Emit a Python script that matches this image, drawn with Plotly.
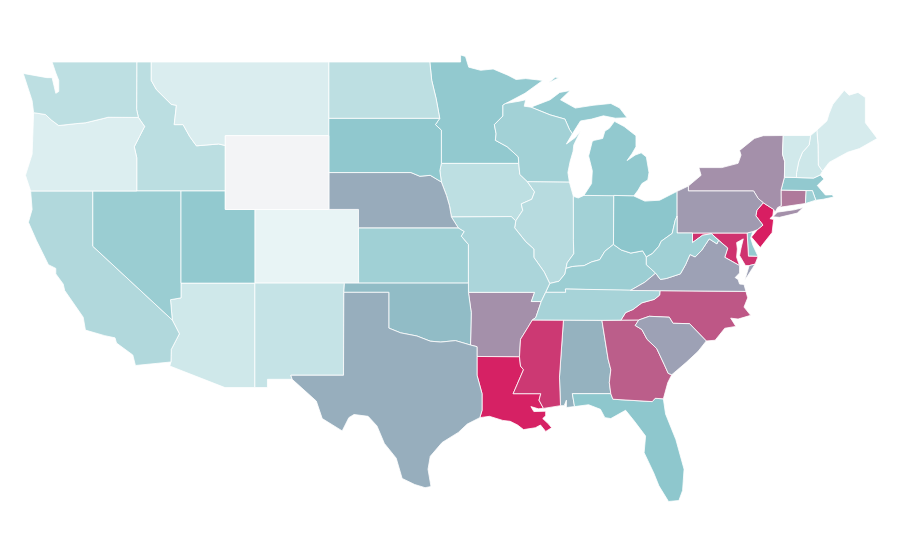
import plotly.graph_objects as go
from plotly.colors import sample_colorscale

states = ['AL','AR','AZ','CA','CO','CT','DE','FL','GA','IA','ID','IL','IN','KS','KY','LA','MA','MD','ME',
          'MI','MN','MO','MS','MT','NC','ND','NE','NH','NJ','NM','NV','NY','OH','OK','OR','PA','RI','SC','SD',
          'TN','TX','UT','VA','VT','WA','WI','WV','WY']
values = [56,66,17,32,5,73,46,49,81,26,27,29,39,40,42,99,47,94,14,
          47,47,35,92,12,83,26,58,18,100,22,43,66,50,53,11,63,40,61,48,
          37,57,47,61,16,26,39,40,0]

colorscale = [[0, '#f3f4f6'], [0.04, '#eaf5f6'], [0.5, '#8cc6cc'], [1, '#d81e62']]

# the plotly topojson needs the cdn, so the borders are kept here as lon/lat
mn_wi = [(-92.1,46.75),(-92.29,46.66),(-92.29,46.07),(-92.87,45.6),(-92.75,45.1),(-92.8,44.75),(-92.0,44.4),(-91.25,43.85),(-91.22,43.5)]
ia_wi = [(-91.22,43.5),(-91.15,42.9),(-90.64,42.51)]
ia_il = [(-90.64,42.51),(-90.15,41.95),(-90.34,41.55),(-91.05,41.3),(-90.95,40.95),(-91.42,40.38)]
mo_il = [(-91.42,40.38),(-91.5,40.0),(-90.75,39.25),(-90.2,38.85),(-90.2,38.4),(-89.5,37.6),(-89.13,36.98)]
ar_ms = [(-89.7,36.0),(-90.07,35.13),(-90.3,35.0),(-90.6,34.6),(-91.1,33.95),(-91.17,33.0)]
la_ms = [(-91.17,33.0),(-91.1,32.5),(-90.9,32.3),(-91.6,31.0),(-89.73,31.0),(-89.85,30.65),(-89.55,30.2)]
il_ky = [(-89.13,36.98),(-88.5,37.1),(-88.1,37.5),(-88.03,37.8)]
il_in = [(-88.03,37.8),(-87.95,38.1),(-87.5,38.6),(-87.53,39.35),(-87.53,41.71)]
in_ky = [(-88.03,37.8),(-87.6,37.9),(-86.8,37.95),(-86.3,38.15),(-85.75,38.27),(-85.4,38.73),(-84.82,39.1)]
oh_ky = [(-84.82,39.1),(-84.3,38.8),(-83.65,38.63),(-82.85,38.75),(-82.6,38.42)]
oh_wv = [(-82.6,38.42),(-82.2,38.6),(-81.75,39.0),(-81.6,39.27),(-80.85,39.7),(-80.65,40.4),(-80.52,40.64)]
ky_wv = [(-82.6,38.42),(-82.6,38.0),(-81.97,37.54)]
ky_va = [(-81.97,37.54),(-82.7,37.05),(-83.68,36.6)]
va_wv = [(-81.97,37.54),(-81.65,37.2),(-81.25,37.25),(-80.3,37.5),(-79.95,38.0),(-79.65,38.55),(-79.3,38.42),(-78.87,38.77),(-78.35,39.4),(-77.83,39.13),(-77.72,39.32)]
md_wv = [(-77.72,39.32),(-78.2,39.68),(-78.8,39.6),(-79.48,39.2),(-79.48,39.72)]
va_md = [(-77.72,39.32),(-77.1,38.9),(-77.3,38.4),(-76.95,38.25),(-76.3,37.95)]
va_nc = [(-75.87,36.55),(-81.68,36.59)]
tn_nc = [(-81.68,36.59),(-81.7,36.35),(-82.05,36.12),(-82.9,35.93),(-83.5,35.57),(-84.0,35.4),(-84.32,34.99)]
tn_north = [(-89.4,36.5),(-88.05,36.5),(-88.07,36.68),(-86.5,36.65),(-83.68,36.6)]
ga_sc = [(-83.11,35.0),(-83.35,34.7),(-82.9,34.48),(-82.55,33.95),(-81.9,33.45),(-81.4,32.6),(-81.12,32.1),(-80.88,32.03)]
nc_sc = [(-83.11,35.0),(-82.4,35.2),(-81.05,35.15),(-80.8,34.82),(-79.68,34.8),(-78.55,33.86)]
al_ga = [(-85.6,34.98),(-85.18,32.87),(-85.0,32.3),(-85.1,31.6),(-85.0,31.0)]
fl_ga = [(-85.0,31.0),(-84.86,30.7),(-82.2,30.57),(-82.0,30.75),(-81.45,30.72)]
tx_red = [(-100.0,34.56),(-99.2,34.3),(-98.1,34.13),(-97.2,33.85),(-96.5,33.8),(-95.5,33.88),(-94.48,33.64)]
la_tx = [(-94.04,33.02),(-94.04,32.0),(-93.7,31.0),(-93.7,30.1),(-93.85,29.7)]
ks_mo = [(-95.31,40.0),(-94.9,39.8),(-95.1,39.55),(-94.62,39.1),(-94.62,37.0)]
ne_ia = [(-96.45,42.49),(-96.1,41.75),(-95.9,41.2),(-95.77,40.59)]
ne_sd = [(-104.05,43.0),(-98.5,43.0),(-97.9,42.8),(-97.2,42.85),(-96.45,42.49)]
mn_sd = [(-96.56,45.94),(-96.85,45.6),(-96.45,45.3),(-96.45,43.5)]
mn_nd = [(-97.23,49.0),(-97.1,48.0),(-96.8,47.0),(-96.56,45.94)]
wi_up = [(-90.4,46.55),(-89.1,46.13),(-88.1,45.9),(-87.8,45.35),(-87.6,45.1)]
ny_pa = [(-75.35,42.0),(-75.05,41.6),(-74.7,41.36)]
nj_pa = [(-74.7,41.36),(-75.13,40.95),(-75.2,40.65),(-74.72,40.15),(-75.1,39.9)]
vt_nh = [(-71.5,45.01),(-71.6,44.5),(-72.05,44.1),(-72.3,43.6),(-72.45,43.0),(-72.46,42.73)]
ny_vt = [(-73.35,45.01),(-73.4,44.0),(-73.25,43.6),(-73.27,42.75)]
nh_me = [(-71.08,45.3),(-71.0,44.5),(-70.98,43.4),(-70.7,43.07)]
wa_or = [(-116.92,45.99),(-118.98,46.0),(-119.3,45.93),(-120.5,45.7),(-121.2,45.65),(-122.3,45.55),(-122.8,45.85),(-123.2,46.15),(-124.0,46.25)]
id_or = [(-116.92,45.99),(-116.5,45.5),(-116.85,44.95),(-117.2,44.4),(-117.03,43.8),(-117.03,42.0)]
id_mt = [(-116.05,49.0),(-116.05,48.0),(-115.7,47.5),(-114.7,46.7),(-114.35,46.65),(-114.5,45.6),(-113.9,45.6),(-113.45,44.95),(-113.0,44.45),(-111.5,44.55),(-111.05,44.47)]
az_ca = [(-114.63,35.0),(-114.15,34.25),(-114.7,33.4),(-114.72,32.72)]


def rev(line):
    return line[::-1]


outlines = {
    'WA': [[(-124.7,48.38),(-123.1,48.15),(-122.75,48.15),(-122.5,47.3),(-122.3,47.4),(-122.3,48.0),(-122.5,48.4),(-122.75,49.0),(-117.03,49.0),(-117.04,46.42)]
           + wa_or + [(-124.1,46.9)]],
    'OR': [rev(wa_or) + id_or + [(-124.2,42.0),(-124.55,42.85),(-124.1,44.0)]],
    'CA': [[(-124.2,42.0),(-120.0,42.0),(-120.0,39.0)] + az_ca
           + [(-117.12,32.53),(-117.3,33.1),(-118.4,33.75),(-118.5,34.03),(-119.2,34.15),(-120.5,34.45),(-120.65,35.15),(-121.9,36.6),(-122.0,36.95),(-122.5,37.5),(-122.5,37.8),(-123.0,38.0),(-123.8,39.3),(-124.35,40.3),(-124.1,41.0)]],
    'NV': [[(-120.0,42.0),(-114.04,42.0),(-114.04,36.2),(-114.75,36.1),(-114.63,35.0),(-120.0,39.0)]],
    'ID': [[(-117.03,49.0)] + id_mt + [(-111.05,42.0),(-114.04,42.0)] + rev(id_or) + [(-117.04,46.42)]],
    'MT': [[(-104.05,49.0),(-104.05,45.0),(-111.05,45.0)] + rev(id_mt)],
    'WY': [[(-111.05,45.0),(-104.05,45.0),(-104.05,41.0),(-111.05,41.0)]],
    'UT': [[(-114.04,42.0),(-111.05,42.0),(-111.05,41.0),(-109.05,41.0),(-109.05,37.0),(-114.04,37.0)]],
    'CO': [[(-109.05,41.0),(-102.05,41.0),(-102.05,37.0),(-109.05,37.0)]],
    'AZ': [[(-114.04,37.0),(-109.05,37.0),(-109.05,31.33),(-111.07,31.33),(-114.8,32.5)] + rev(az_ca) + [(-114.75,36.1),(-114.04,36.2)]],
    'NM': [[(-109.05,37.0),(-103.0,37.0),(-103.04,36.5),(-103.06,32.0),(-106.62,32.0),(-106.53,31.78),(-108.2,31.78),(-108.2,31.33),(-109.05,31.33)]],
    'ND': [[(-104.05,49.0)] + mn_nd + [(-104.05,45.94)]],
    'SD': [[(-104.05,45.94)] + mn_sd + [(-96.55,43.1)] + rev(ne_sd)],
    'NE': [ne_sd + ne_ia + [(-95.31,40.0),(-102.05,40.0),(-102.05,41.0),(-104.05,41.0)]],
    'KS': [[(-102.05,40.0)] + ks_mo + [(-102.04,37.0)]],
    'OK': [[(-103.0,37.0),(-94.62,37.0),(-94.62,36.5),(-94.43,35.4)] + rev(tx_red) + [(-100.0,36.5),(-103.04,36.5)]],
    'TX': [tx_red + [(-94.04,33.55)] + la_tx
           + [(-94.7,29.35),(-95.3,28.9),(-96.4,28.35),(-97.2,27.6),(-97.35,26.9),(-97.15,25.96),(-97.55,25.9),(-98.25,26.07),(-99.1,26.4),(-99.5,27.5),(-100.3,28.3),(-100.8,29.25),(-101.4,29.77),(-102.35,29.87),(-102.7,29.7),(-103.15,28.98),(-104.5,29.65),(-104.9,30.6),(-106.53,31.78),(-106.62,32.0),(-103.06,32.0),(-103.04,36.5),(-100.0,36.5)]],
    'MN': [[(-97.23,49.0),(-95.15,49.0),(-95.15,49.38),(-94.82,49.3),(-94.6,48.72),(-93.8,48.55),(-92.95,48.62),(-92.0,48.3),(-91.4,48.05),(-90.75,48.1),(-89.6,48.0),(-90.8,47.3)]
           + mn_wi + rev(mn_sd) + rev(mn_nd)],
    'IA': [[(-96.45,43.5)] + ia_wi + ia_il + [(-91.73,40.61)] + rev(ne_ia) + [(-96.55,43.1)]],
    'MO': [[(-95.77,40.59),(-91.73,40.61)] + mo_il + [(-89.4,36.5),(-89.7,36.0),(-90.37,36.0),(-90.15,36.5),(-94.62,36.5)] + rev(ks_mo)],
    'AR': [[(-94.62,36.5),(-90.15,36.5),(-90.37,36.0)] + ar_ms + [(-94.04,33.02),(-94.04,33.55),(-94.48,33.64),(-94.43,35.4)]],
    'LA': [[(-94.04,33.02)] + la_ms
           + [(-89.9,30.18),(-90.4,30.3),(-90.2,30.03),(-89.8,30.05),(-89.4,30.05),(-89.4,29.8),(-89.6,29.65),(-89.2,29.35),(-89.0,29.15),(-89.4,28.95),(-89.75,29.3),(-90.1,29.15),(-90.9,29.05),(-91.3,29.3),(-91.8,29.5),(-92.3,29.55),(-93.2,29.77)]
           + rev(la_tx)],
    'WI': [mn_wi + ia_wi[1:] + [(-87.8,42.49),(-87.9,43.0),(-87.75,43.6),(-87.55,44.15),(-87.5,44.5),(-87.05,45.25),(-87.4,44.9),(-88.0,44.55)]
           + rev(wi_up) + [(-90.85,46.6),(-90.75,46.95),(-91.2,46.87)]],
    'IL': [[(-90.64,42.51),(-87.8,42.49)] + rev(il_in) + rev(il_ky) + rev(mo_il) + rev(ia_il)],
    'IN': [[(-87.53,41.71),(-87.2,41.62),(-86.82,41.76),(-84.8,41.76)] + rev(in_ky) + il_in[1:]],
    'OH': [[(-84.8,41.76),(-83.45,41.73),(-82.7,41.45),(-81.7,41.5),(-80.52,41.98)] + rev(oh_wv) + rev(oh_ky)],
    'MI': [[(-86.82,41.76),(-84.8,41.76),(-83.45,41.73),(-83.15,42.05),(-82.9,42.4),(-82.5,42.6),(-82.42,43.0),(-82.6,43.85),(-82.95,44.07),(-83.35,43.95),(-83.9,43.65),(-83.55,44.05),(-83.3,44.4),(-83.3,45.0),(-84.1,45.5),(-84.75,45.78),(-85.1,45.4),(-85.4,45.25),(-85.55,44.85),(-86.1,44.75),(-86.25,44.7),(-86.5,43.9),(-86.25,43.1),(-86.3,42.4)],
           wi_up[:1] + [(-89.1,46.95),(-88.45,47.35),(-87.75,47.45),(-88.4,46.95),(-87.4,46.5),(-86.2,46.65),(-85.0,46.75),(-84.4,46.5),(-84.1,46.2),(-83.9,45.97),(-84.7,45.95),(-85.5,46.08),(-86.3,45.9),(-87.05,45.8)] + rev(wi_up)[:-1],
           [(-89.2,47.87),(-88.5,48.15),(-88.75,48.17)]],
    'KY': [il_ky + in_ky[1:] + oh_ky[1:] + ky_wv[1:] + ky_va[1:] + rev(tn_north) + [(-89.13,36.98)]],
    'TN': [tn_north + [va_nc[1]] + tn_nc + [(-85.6,34.98),(-88.2,34.995),(-90.3,35.0),(-90.07,35.13),(-89.7,36.0)]],
    'WV': [oh_wv + [(-80.52,39.72),(-79.48,39.72)] + rev(md_wv) + rev(va_wv) + rev(ky_wv)[1:]],
    'VA': [[(-83.68,36.6)] + rev(ky_va) + va_wv + va_md + [(-76.3,37.55),(-76.6,37.3),(-76.4,37.2),(-76.3,36.95),(-76.0,36.93)] + va_nc,
           [(-75.95,37.15),(-75.65,37.95),(-75.25,38.03),(-75.6,37.55)]],
    'NC': [va_nc + tn_nc + [(-83.11,35.0)] + nc_sc[1:] + [(-77.95,33.9),(-77.3,34.55),(-76.55,34.65),(-76.9,35.1),(-76.4,35.05),(-75.55,35.25),(-76.0,35.7),(-75.75,36.2)]],
    'SC': [nc_sc + [(-79.1,33.3),(-79.9,32.7)] + rev(ga_sc)],
    'GA': [[(-85.6,34.98),(-84.32,34.99)] + ga_sc + [(-81.15,31.6),(-81.45,30.72)] + rev(fl_ga) + rev(al_ga)],
    'AL': [[(-88.2,34.995)] + al_ga + [(-87.6,31.0),(-87.45,30.3),(-88.0,30.25),(-88.0,30.65),(-88.15,30.35),(-88.4,30.35),(-88.47,31.9)]],
    'MS': [[(-90.3,35.0),(-88.2,34.995),(-88.47,31.9),(-88.4,30.35)] + rev(la_ms) + rev(ar_ms)[:-2]],
    'FL': [[(-87.6,31.0)] + fl_ga + [(-81.3,29.9),(-80.6,28.5),(-80.05,26.9),(-80.15,25.75),(-80.4,25.2),(-81.1,25.15),(-81.75,26.0),(-82.1,26.7),(-82.75,27.8),(-82.65,28.7),(-83.4,29.5),(-84.0,30.1),(-85.0,29.65),(-85.4,29.7),(-85.7,30.15),(-86.5,30.4),(-87.45,30.3)]],
    'PA': [[(-80.52,41.98),(-79.76,42.27),(-79.76,42.0)] + ny_pa + nj_pa + [(-75.4,39.8),(-75.79,39.72),(-80.52,39.72),(-80.52,40.64)]],
    'NY': [[(-79.76,42.27),(-78.9,42.85),(-79.05,43.27),(-77.5,43.27),(-76.4,43.5),(-76.2,43.95),(-76.3,44.2),(-75.3,44.85),(-74.7,45.0)] + ny_vt + [(-73.5,42.05),(-73.49,41.2),(-73.73,41.1),(-73.9,40.85),(-74.0,41.0)] + rev(ny_pa) + [(-79.76,42.0)],
           [(-74.05,40.6),(-73.75,40.85),(-72.6,40.98),(-72.0,41.1),(-72.4,40.8),(-73.6,40.57)]],
    'NJ': [[(-74.7,41.36),(-74.0,41.0),(-74.05,40.65),(-74.25,40.5),(-74.0,40.45),(-74.1,39.75),(-74.9,38.93),(-75.5,39.5)] + rev(nj_pa)[:-1]],
    'DE': [[(-75.79,39.72),(-75.4,39.8),(-75.55,39.45),(-75.4,39.05),(-75.05,38.45),(-75.7,38.46)]],
    'MD': [[(-79.48,39.72),(-75.79,39.72),(-75.7,38.46),(-75.05,38.45),(-75.25,38.03),(-75.65,37.95),(-75.9,37.95),(-76.3,38.5),(-76.2,38.9),(-76.05,39.4),(-76.5,39.2),(-76.45,38.85),(-76.5,38.4)] + rev(va_md) + md_wv[1:]],
    'CT': [[(-73.5,42.05),(-71.8,42.02),(-71.85,41.32),(-73.0,41.2),(-73.73,41.1),(-73.49,41.2)]],
    'RI': [[(-71.8,42.02),(-71.38,42.02),(-71.15,41.5),(-71.85,41.32)]],
    'MA': [[(-73.27,42.75),(-72.46,42.73),(-71.3,42.7),(-70.85,42.87),(-70.6,42.65),(-71.05,42.3),(-70.65,41.95),(-70.5,41.78),(-70.0,41.8),(-70.2,42.07),(-69.95,41.67),(-70.65,41.55),(-71.15,41.5),(-71.38,42.02),(-71.8,42.02),(-73.5,42.05)]],
    'VT': [ny_vt[:1] + vt_nh + rev(ny_vt)[:-1]],
    'NH': [[(-71.08,45.3)] + nh_me[1:] + [(-70.85,42.87),(-71.3,42.7)] + rev(vt_nh)],
    'ME': [[(-71.08,45.3),(-70.4,45.8),(-70.25,46.2),(-70.0,46.7),(-69.23,47.46),(-68.9,47.2),(-68.3,47.35),(-67.8,47.07),(-67.8,45.7),(-67.45,45.3),(-67.0,44.85),(-68.2,44.3),(-69.0,44.1),(-69.8,43.75),(-70.25,43.55)] + rev(nh_me)[:-1]],
}

colors = sample_colorscale(colorscale, [v / 100 for v in values])

fig = go.Figure()
for state, value, color in zip(states, values, colors):
    lons, lats = [], []
    for ring in outlines[state]:
        lons += [p[0] for p in ring] + [ring[0][0], None]
        lats += [p[1] for p in ring] + [ring[0][1], None]
    fig.add_trace(go.Scatter(
        x=lons,
        y=lats,
        mode='lines',
        fill='toself',
        fillcolor=color,
        line=dict(color='white', width=0.8),
        name=state,
        text=f'{state}: {value}',
        hoveron='fills',
        hoverinfo='text',
        showlegend=False,
    ))

# plain lon/lat axes, the reference map has no curvature
fig.update_xaxes(range=[-125.73, -64.92], visible=False)
fig.update_yaxes(range=[21.54, 51.93], visible=False)
fig.update_layout(
    width=900,
    height=560,
    paper_bgcolor='white',
    plot_bgcolor='white',
    margin=dict(l=0, r=0, t=0, b=0),
)

fig.write_html("out.html")
